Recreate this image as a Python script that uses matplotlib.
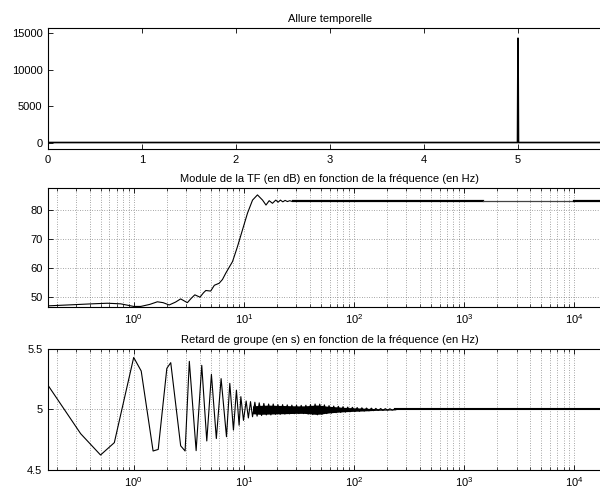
import matplotlib
matplotlib.use('Agg')
import matplotlib.pyplot as plt

plt.rcParams['font.family'] = ['Liberation Sans', 'DejaVu Sans']
plt.rcParams['font.size'] = 8
plt.rcParams['mathtext.fontset'] = 'custom'
plt.rcParams['mathtext.rm'] = 'Liberation Sans'

# Allure temporelle
t = [0.0, 4.995, 5.0, 5.005, 6.0]
x_t = [0.0, 0.0, 14300.0, 0.0, 0.0]

# Module de la TF (dB)
f_mod = [0.1667, 0.286, 0.42, 0.576, 0.76, 1.0, 1.16, 1.4, 1.64, 1.85, 2.1, 2.4, 2.67,
         3.07, 3.35, 3.59, 4.0, 4.3, 4.52, 5.0, 5.4, 5.97, 6.4, 6.86, 7.9, 8.75, 9.72,
         10.8, 12.0, 13.3, 14.8, 15.9, 17.0, 18.2, 19.5, 20.5, 21.5, 22.6, 23.7, 24.9,
         26.1, 27.4, 28.8, 30.2, 31.7, 33.3, 35.0]
mod_db = [46.9, 47.3, 47.6, 47.8, 47.6, 46.7, 46.7, 47.4, 48.3, 48.0, 47.2, 48.2, 49.3,
          48.0, 49.6, 50.7, 49.9, 51.4, 52.2, 52.0, 54.0, 54.7, 56.0, 58.2, 62.2, 67.3, 73.1,
          78.9, 83.4, 85.2, 83.4, 81.7, 83.2, 82.3, 83.4, 82.7, 83.4, 82.8, 83.3, 82.9,
          83.2, 82.95, 83.15, 83.0, 83.15, 83.05, 83.1]
f_flat = [28.0, 1500.0, 10000.0, 22050.0]
mod_flat = [83.1, 83.1, 83.1, 83.1]

# Retard de groupe (s)
f_gd = [0.1667, 0.33, 0.5, 0.667, 1.0, 1.17, 1.5, 1.67, 2.0, 2.17, 2.67, 2.93, 3.2,
        3.69, 4.15, 4.61, 5.08, 5.63, 6.22, 6.96, 7.46, 8.05, 8.57, 9.06, 9.4, 9.93,
        10.5, 11.0, 11.5, 12.0, 12.6, 13.2, 13.8, 14.5, 15.2, 16.0, 16.8, 17.6, 18.5,
        19.4, 20.4, 21.4, 22.5, 23.6, 24.8, 26.0, 27.3, 28.7, 30.1, 31.6, 33.2, 34.9,
        36.6, 38.4, 40.3, 42.3, 44.4, 46.6, 48.9, 51.3, 53.9, 56.6, 59.4, 62.4, 65.5,
        68.8, 72.2, 75.8, 79.6, 83.6, 87.8, 92.2, 96.8, 102, 107, 112, 118, 124, 130,
        137, 144, 151, 158, 166, 175, 183, 193, 202, 212, 223, 234]
gd = [5.20, 4.80, 4.624, 4.726, 5.43, 5.318, 4.657, 4.67, 5.34, 5.387, 4.70, 4.657, 5.398,
      4.66, 5.365, 4.74, 5.29, 4.76, 5.255, 4.775, 5.216, 4.83, 5.16, 4.87, 5.106, 4.91,
      5.07, 4.93, 5.065, 4.94, 5.06, 4.945, 5.055, 4.95, 5.05, 4.955, 5.045, 4.955, 5.045,
      4.96, 5.04, 4.96, 5.04, 4.962, 5.038, 4.964, 5.036, 4.965, 5.035, 4.966, 5.034, 4.966,
      5.035, 4.962, 5.04, 4.958, 5.045, 4.956, 5.044, 4.96, 5.038, 4.966, 5.032, 4.97, 5.028,
      4.973, 5.026, 4.976, 5.023, 4.978, 5.02, 4.981, 5.018, 4.983, 5.016, 4.985, 5.014,
      4.987, 5.012, 4.989, 5.011, 4.99, 5.009, 4.992, 5.008, 4.993, 5.007, 4.994, 5.006,
      4.995, 5.004]
f_gd_flat = [234.0, 1000.0, 22050.0]
gd_flat = [5.0, 5.0, 5.0]

# dense part of the group delay (band envelope)
band_f = [12, 14, 17, 20, 25, 30, 35, 40, 45, 50, 55, 60, 70, 80, 100, 130, 160, 200, 240]
band_hi = [5.030, 5.034, 5.036, 5.034, 5.032, 5.030, 5.030, 5.033, 5.037, 5.035, 5.029, 5.026,
           5.022, 5.018, 5.014, 5.010, 5.007, 5.005, 5.003]
band_lo = [4.965, 4.960, 4.962, 4.964, 4.966, 4.968, 4.968, 4.964, 4.960, 4.962, 4.968, 4.972,
           4.977, 4.981, 4.985, 4.989, 4.993, 4.995, 4.997]

fig = plt.figure(figsize=(6.0, 4.92), dpi=100)
ax1 = fig.add_axes([0.08, 0.697, 0.94, 0.246])
ax2 = fig.add_axes([0.08, 0.376, 0.94, 0.242])
ax3 = fig.add_axes([0.08, 0.0447, 0.94, 0.246])

ax1.plot(t, x_t, color='k', lw=1.2)
ax1.set_xlim(0, 6)
ax1.set_ylim(-900, 15700)
ax1.set_xticks([0, 1, 2, 3, 4, 5])
ax1.set_yticks([0, 5000, 10000, 15000])
ax1.set_title('Allure temporelle', fontsize=8, pad=4)

ax2.plot(f_mod, mod_db, color='k', lw=0.8)
ax2.plot(f_flat[:2], mod_flat[:2], color='k', lw=1.6)
ax2.plot(f_flat[1:3], mod_flat[1:3], color='#444444', lw=0.9)
ax2.plot(f_flat[2:], mod_flat[2:], color='k', lw=1.6)
ax2.set_xscale('log')
ax2.set_xlim(1 / 6, 22050)
ax2.set_ylim(46.5, 87.6)
ax2.set_yticks([50, 60, 70, 80])
ax2.set_title('Module de la TF (en dB) en fonction de la fréquence (en Hz)', fontsize=8, pad=4)

ax3.plot(f_gd, gd, color='k', lw=0.8)
ax3.plot(f_gd_flat, gd_flat, color='k', lw=1.5)
ax3.fill_between(band_f, band_lo, band_hi, color='k', lw=0)
ax3.set_xscale('log')
ax3.set_xlim(1 / 6, 22050)
ax3.set_ylim(4.5, 5.5)
ax3.set_yticks([4.5, 5, 5.5])
ax3.set_yticklabels(['4.5', '5', '5.5'])
ax3.set_title('Retard de groupe (en s) en fonction de la fréquence (en Hz)', fontsize=8, pad=4)

for ax in (ax1, ax2, ax3):
    ax.tick_params(which='major', direction='in', length=3.5, width=0.6,
                   top=True, right=True, labelsize=8, pad=4)
    ax.tick_params(which='minor', direction='in', length=2, width=0.5, top=True, right=True)
    for s in ax.spines.values():
        s.set_linewidth(0.8)

for ax in (ax2, ax3):
    ax.set_xticks([1, 10, 100, 1000, 10000])
    ax.grid(True, which='both', axis='x', ls=(0, (1, 2.5)), color='#555555', lw=0.5)
    ax.grid(True, which='major', axis='y', ls=(0, (1, 2.5)), color='#555555', lw=0.5)
    ax.set_axisbelow(True)

fig.savefig('out.png', dpi=100)
